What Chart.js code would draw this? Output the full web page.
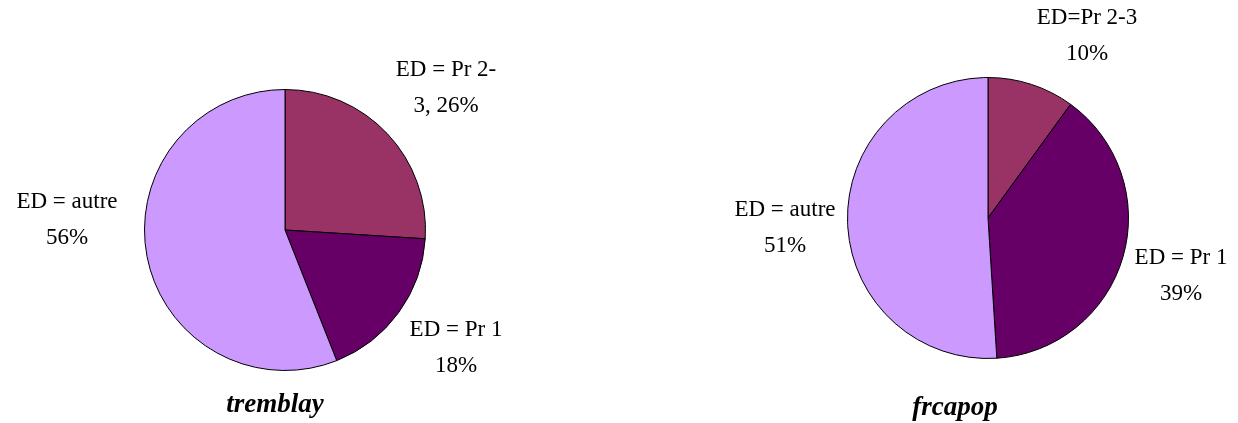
<!DOCTYPE html>
<html>
<head>
<meta charset="utf-8">
<script src="https://cdn.jsdelivr.net/npm/chart.js@4"></script>
<style>
  body { margin: 0; background: #fff; overflow: hidden; }
  #wrap { position: relative; width: 1238px; height: 423px; }
  .box { position: absolute; top: 0; height: 423px; }
</style>
</head>
<body>
<div id="wrap">
  <div class="box" style="left:0;width:570px"><canvas id="left"></canvas></div>
  <div class="box" style="left:640px;width:598px"><canvas id="right"></canvas></div>
</div>
<script>
const categories = ['ED = Pr 2-3', 'ED = Pr 1', 'ED = autre'];
const trembValues = [26, 18, 56];
const frcaValues = [10, 39, 51];
const colors = ['#993366', '#660066', '#CC99FF'];

const FONT = '"Liberation Serif", serif';

// étiquettes façon Excel : lignes de texte, position relative au centre du camembert
const trembLabels = [
    {lines: ['ED = Pr 2-', '3, 26%'], dx: 161, dy: -160},
    {lines: ['ED = Pr 1', '18%'], dx: 171, dy: 100},
    {lines: ['ED = autre', '56%'], dx: -218, dy: -28},
];
const frcaLabels = [
    {lines: ['ED=Pr 2-3', '10%'], dx: 99, dy: -200},
    {lines: ['ED = Pr 1', '39%'], dx: 193, dy: 40},
    {lines: ['ED = autre', '51%'], dx: -203, dy: -8},
];

const labelPlugin = {
    id: 'pieLabels',
    afterDraw(chart, args, opts) {
        const arc = chart.getDatasetMeta(0).data[0];
        const c = chart.ctx;
        c.save();
        c.fillStyle = '#000';
        c.textAlign = 'center';
        c.textBaseline = 'middle';
        c.font = '23px ' + FONT;
        opts.items.forEach(it => {
            it.lines.forEach((t, i) => {
                c.fillText(t, arc.x + it.dx, arc.y + it.dy + i * 36);
            });
        });
        c.font = 'italic bold 27px ' + FONT;
        c.fillText(opts.title, arc.x + opts.titleDx, arc.y + opts.titleDy);
        c.restore();
    },
};

function makePie(id, values, items, title, pad, titleDx, titleDy) {
    new Chart(document.getElementById(id), {
        type: 'pie',
        data: {
            labels: categories,
            datasets: [{
                data: values,
                backgroundColor: colors,
                borderColor: '#000',
                borderWidth: 1,
            }],
        },
        options: {
            responsive: true,
            maintainAspectRatio: false,
            animation: false,
            layout: {padding: pad},
            plugins: {
                legend: {display: false},
                tooltip: {enabled: false},
                pieLabels: {items: items, title: title, titleDx: titleDx, titleDy: titleDy},
            },
        },
        plugins: [labelPlugin],
    });
}

makePie('left', trembValues, trembLabels, 'tremblay', {top: 89, bottom: 52}, -10, 175);
makePie('right', frcaValues, frcaLabels, 'frcapop', {top: 77, bottom: 64, left: 98, right: 0}, -33, 190);
</script>
</body>
</html>
